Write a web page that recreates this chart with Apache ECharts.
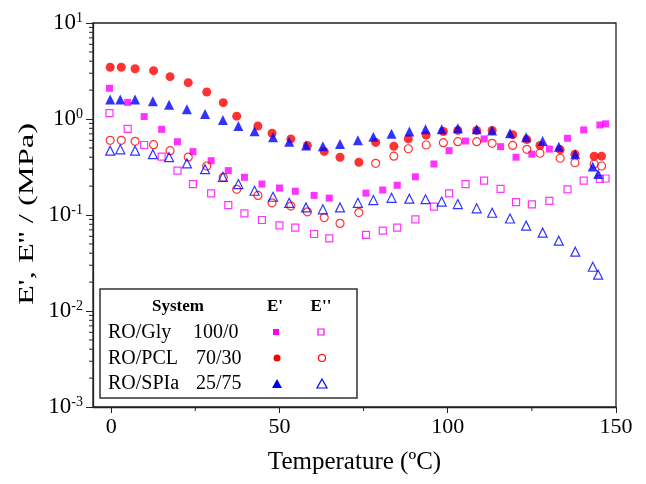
<!DOCTYPE html>
<html>
<head>
<meta charset="utf-8">
<script src="https://cdn.jsdelivr.net/npm/echarts@6/dist/echarts.min.js"></script>
<style>
  html, body { margin: 0; padding: 0; background: #fff; }
  #main { width: 646px; height: 484px; }
</style>
</head>
<body>
<div id="main"></div>
<script>
var chart = echarts.init(document.getElementById('main'));
var serif = "'Liberation Serif', 'Times New Roman', serif";

// RO/Gly 100/0
var glyTemp = [-0.5, 4.9, 9.8, 15.0, 19.7, 24.3, 29.7, 34.8, 39.6, 44.8, 50.0, 54.7, 60.3, 64.8, 75.7,
    80.7, 85.0, 90.4, 95.9, 100.4, 105.3, 110.8, 115.7, 120.3, 125.0, 130.2, 135.6, 140.4, 145.2, 146.9];
var glyE1 = [2.09, 1.49, 1.06, 0.78, 0.58, 0.457, 0.368, 0.29, 0.247, 0.21, 0.191, 0.177, 0.16, 0.150, 0.169,
    0.182, 0.204, 0.25, 0.34, 0.468, 0.59, 0.62, 0.515, 0.40, 0.43, 0.487, 0.63, 0.77, 0.866, 0.89];
var glyE2 = [1.15, 0.79, 0.536, 0.405, 0.29, 0.21, 0.168, 0.127, 0.104, 0.0887, 0.078, 0.0738, 0.0634, 0.0572, 0.062,
    0.0686, 0.0738, 0.090, 0.122, 0.168, 0.21, 0.2276, 0.187, 0.1365, 0.129, 0.14, 0.185, 0.2276, 0.237, 0.24];

// RO/PCL 70/30
var pclTemp = [-0.3, 3.0, 7.1, 12.6, 17.5, 22.9, 28.4, 33.3, 37.3, 43.6, 47.8, 53.4, 58.3, 63.3, 68.0, 73.6,
    78.6, 84.0, 88.3, 93.6, 98.7, 103.0, 108.6, 113.2, 119.3, 123.5, 127.4, 133.4, 137.8, 143.5, 145.7];
var pclE1 = [3.46, 3.46, 3.34, 3.19, 2.76, 2.39, 1.91, 1.48, 1.07, 0.845, 0.71, 0.62, 0.53, 0.46, 0.40, 0.354,
    0.57, 0.52, 0.62, 0.68, 0.74, 0.76, 0.76, 0.76, 0.687, 0.61, 0.53, 0.48, 0.43, 0.41, 0.41];
var pclE2 = [0.60, 0.60, 0.586, 0.54, 0.468, 0.40, 0.324, 0.247, 0.185, 0.160, 0.134, 0.124, 0.108, 0.094, 0.0818, 0.106,
    0.345, 0.41, 0.49, 0.536, 0.567, 0.58, 0.58, 0.558, 0.53, 0.483, 0.44, 0.39, 0.35, 0.34, 0.324];

// RO/SPIa 25/75
var spiTemp = [-0.3, 2.7, 7.1, 12.4, 17.2, 22.5, 27.9, 33.2, 37.8, 42.6, 48.1, 52.9, 57.9, 62.9, 68.0, 73.3,
    77.9, 83.3, 88.6, 93.4, 98.2, 103.0, 108.6, 113.2, 118.5, 123.3, 128.2, 133.0, 137.9, 143.1, 144.7];
var spiE1 = [1.60, 1.60, 1.60, 1.53, 1.41, 1.26, 1.13, 0.977, 0.845, 0.745, 0.644, 0.58, 0.53, 0.52, 0.55, 0.60,
    0.655, 0.70, 0.74, 0.78, 0.78, 0.80, 0.78, 0.76, 0.71, 0.644, 0.59, 0.515, 0.43, 0.32, 0.267];
var spiE2 = [0.468, 0.483, 0.468, 0.43, 0.40, 0.345, 0.30, 0.25, 0.21, 0.179, 0.155, 0.134, 0.12, 0.1146, 0.12, 0.134,
    0.143, 0.151, 0.148, 0.146, 0.138, 0.130, 0.1175, 0.1056, 0.092, 0.0775, 0.0655, 0.054, 0.0415, 0.0289, 0.0239];

// axis ranges and ticks
var xMin = -5.4, xMax = 150;
var yMin = 0.001, yMax = 10;
var xMajor = [0, 50, 100, 150];
var xMinor = [25, 75, 125];
var yMinor = [];
for (var d = -3; d < 1; d++) {
    for (var k = 2; k <= 9; k++) {
        yMinor.push(k * Math.pow(10, d));
    }
}

function pairs(xs, ys) {
    return xs.map(function (x, i) { return [x, ys[i]]; });
}

function filled(name, sym, size, color, xs, ys) {
    return {
        name: name, type: 'scatter', symbol: sym, symbolSize: size,
        itemStyle: { color: color },
        data: pairs(xs, ys)
    };
}
function hollow(name, sym, size, color, xs, ys) {
    return {
        name: name, type: 'scatter', symbol: sym, symbolSize: size,
        itemStyle: { color: 'rgba(255,255,255,0)', borderColor: color, borderWidth: 1.2 },
        data: pairs(xs, ys)
    };
}

// minor ticks drawn through the axes' own scales
var minorTicks = {
    type: 'custom', silent: true, clip: false, z: 1,
    data: xMinor.map(function (v) { return ['x', v]; }).concat(yMinor.map(function (v) { return ['y', v]; })),
    dimensions: ['kind', 'val'],
    encode: { x: -1, y: -1 },
    renderItem: function (params, api) {
        var kind = api.value(0);
        var v = api.value(1);
        var p, shape;
        if (kind === 'x') {
            p = api.coord([v, yMin]);
            shape = { x1: p[0], y1: p[1], x2: p[0], y2: p[1] + 4 };
        } else {
            p = api.coord([xMin, v]);
            shape = { x1: p[0] - 4, y1: p[1], x2: p[0], y2: p[1] };
        }
        return { type: 'line', shape: shape, style: { stroke: '#222', lineWidth: 1 } };
    }
};

var txt = { fontFamily: serif, fill: '#000' };

option = {
    animation: false,
    backgroundColor: '#fff',
    grid: {
        left: 93, right: 30, top: 23, bottom: 77,
        show: true, borderColor: '#222', borderWidth: 1.3
    },
    xAxis: {
        type: 'value', min: xMin, max: xMax,
        name: 'Temperature (ºC)', nameLocation: 'middle', nameGap: 43,
        nameTextStyle: { fontFamily: serif, fontSize: 25, color: '#000' },
        axisLine: { onZero: false, lineStyle: { color: '#222', width: 1.3 } },
        axisTick: { customValues: xMajor, length: 6, lineStyle: { color: '#222' } },
        axisLabel: { customValues: xMajor, fontFamily: serif, fontSize: 22, color: '#000', margin: 9 },
        splitLine: { show: false }
    },
    yAxis: {
        type: 'log', logBase: 10, min: yMin, max: yMax,
        axisLine: { onZero: false, lineStyle: { color: '#222', width: 1.3 } },
        axisTick: { length: 7, lineStyle: { color: '#222' } },
        axisLabel: {
            margin: 10, color: '#000',
            formatter: function (v) {
                return '{b|10}{s|' + Math.round(Math.log10(v)) + '}';
            },
            rich: {
                b: { fontFamily: serif, fontSize: 23, color: '#000', lineHeight: 24 },
                s: { fontFamily: serif, fontSize: 14, color: '#000', verticalAlign: 'top', lineHeight: 14 }
            }
        },
        splitLine: { show: false }
    },
    series: [
        minorTicks,
        filled("RO/Gly E'", 'rect', 7, '#ff00ff', glyTemp, glyE1),
        hollow("RO/Gly E''", 'rect', 7, '#ff00ff', glyTemp, glyE2),
        filled("RO/PCL E'", 'circle', 9, '#ff0000', pclTemp, pclE1),
        hollow("RO/PCL E''", 'circle', 8, '#ff0000', pclTemp, pclE2),
        filled("RO/SPIa E'", 'triangle', 10, '#0000ff', spiTemp, spiE1),
        hollow("RO/SPIa E''", 'triangle', 9, '#0000ff', spiTemp, spiE2)
    ],
    graphic: [
        // y axis title, stretched along its length like the original
        { type: 'text', x: 27, y: 214, rotation: Math.PI / 2, scaleX: 1.55, z: 11,
          style: Object.assign({ text: "E', E'' / (MPa)", fontSize: 21, align: 'center', verticalAlign: 'middle' }, txt) },
        // legend table
        { type: 'rect', shape: { x: 100, y: 289, width: 257, height: 109 },
          style: { fill: '#fff', stroke: '#333', lineWidth: 1.5 }, z: 10 },
        { type: 'text', x: 178, y: 307, z: 11,
          style: Object.assign({ text: 'System', fontSize: 17, fontWeight: 'bold', align: 'center', verticalAlign: 'middle' }, txt) },
        { type: 'text', x: 275, y: 307, z: 11,
          style: Object.assign({ text: "E'", fontSize: 17, fontWeight: 'bold', align: 'center', verticalAlign: 'middle' }, txt) },
        { type: 'text', x: 321, y: 307, z: 11,
          style: Object.assign({ text: "E''", fontSize: 17, fontWeight: 'bold', align: 'center', verticalAlign: 'middle' }, txt) },
        { type: 'text', x: 108, y: 333, z: 11,
          style: Object.assign({ text: 'RO/Gly', fontSize: 20, verticalAlign: 'middle' }, txt) },
        { type: 'text', x: 193, y: 333, z: 11,
          style: Object.assign({ text: '100/0', fontSize: 20, verticalAlign: 'middle' }, txt) },
        { type: 'text', x: 108, y: 359, z: 11,
          style: Object.assign({ text: 'RO/PCL', fontSize: 20, verticalAlign: 'middle' }, txt) },
        { type: 'text', x: 196, y: 359, z: 11,
          style: Object.assign({ text: '70/30', fontSize: 20, verticalAlign: 'middle' }, txt) },
        { type: 'text', x: 108, y: 384, z: 11,
          style: Object.assign({ text: 'RO/SPIa', fontSize: 20, verticalAlign: 'middle' }, txt) },
        { type: 'text', x: 196, y: 384, z: 11,
          style: Object.assign({ text: '25/75', fontSize: 20, verticalAlign: 'middle' }, txt) },
        // legend symbols
        { type: 'rect', shape: { x: 273, y: 329, width: 6, height: 6 }, style: { fill: '#ff00ff' }, z: 11 },
        { type: 'rect', shape: { x: 318, y: 329, width: 6, height: 6 }, style: { fill: 'none', stroke: '#ff00ff', lineWidth: 1.2 }, z: 11 },
        { type: 'circle', shape: { cx: 277, cy: 358, r: 3.5 }, style: { fill: '#ff0000' }, z: 11 },
        { type: 'circle', shape: { cx: 322, cy: 358, r: 3.5 }, style: { fill: 'none', stroke: '#ff0000', lineWidth: 1.2 }, z: 11 },
        { type: 'polygon', shape: { points: [[277, 379], [282, 388], [272, 388]] }, style: { fill: '#0000ff' }, z: 11 },
        { type: 'polygon', shape: { points: [[322, 379], [327, 388], [317, 388]] }, style: { fill: 'none', stroke: '#0000ff', lineWidth: 1.2 }, z: 11 }
    ]
};
chart.setOption(option);
</script>
</body>
</html>
